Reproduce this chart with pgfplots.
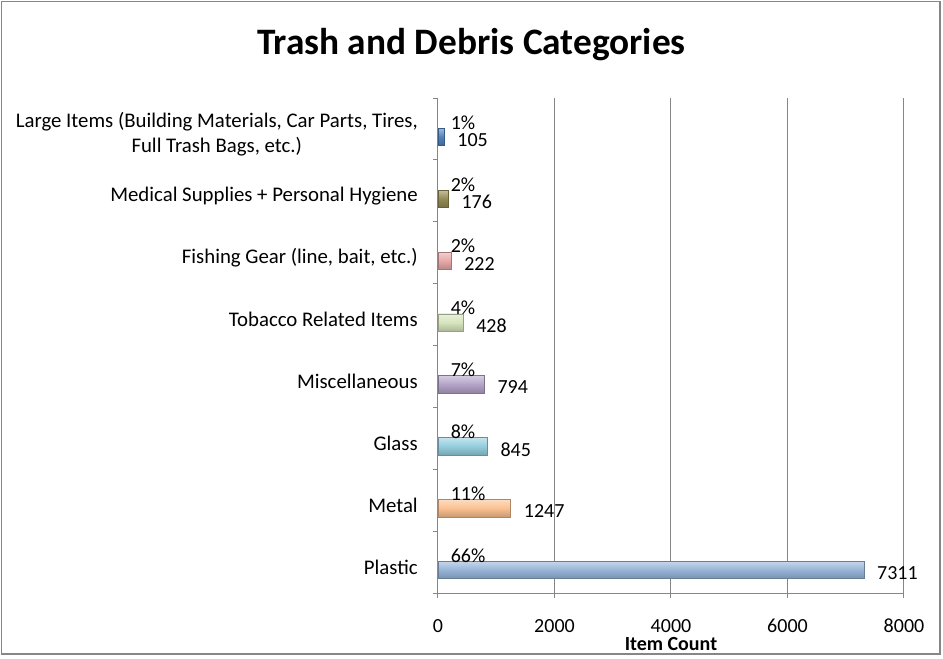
\documentclass[border=0pt]{standalone}
\usepackage{pgfplots}
\pgfplotsset{compat=1.18}
\usepackage{fontspec}
\setmainfont{Carlito}
\definecolor{gridc}{HTML}{868686}
\definecolor{cPlastic}{HTML}{95B3D7}
\definecolor{cMetal}{HTML}{FAC090}
\definecolor{cGlass}{HTML}{93CDDD}
\definecolor{cMisc}{HTML}{B3A2C7}
\definecolor{cTob}{HTML}{D7E4BD}
\definecolor{cFish}{HTML}{E6A9A8}
\definecolor{cMed}{HTML}{948A54}
\definecolor{cLarge}{HTML}{4F81BD}
\pgfplotsset{
  bev/.style={draw=#1!70!black, line width=0.5pt, top color=#1!55!white, bottom color=#1!80!black, middle color=#1,
    nodes near coords, point meta=x,
    nodes near coords style={anchor=west, inner sep=0pt, xshift=9.75pt, yshift=-2.25pt, font=\fontsize{15}{18}\selectfont, text=black,
      /pgf/number format/1000 sep={}, /pgf/number format/assume math mode=true}},
}
\begin{document}
\begin{tikzpicture}
\useasboundingbox (-328.5pt,-48.75pt) rectangle (378.75pt,444.75pt);
\draw[color=gridc, line width=1.1pt] (-327.4pt,-45.75pt) rectangle (376.5pt,443.6pt);
\node[font=\bfseries\fontsize{28}{32}\selectfont] at (25.1pt,411pt) {Trash and Debris Categories};
\begin{axis}[
  at={(0pt,0pt)}, anchor=south west, scale only axis,
  width=349.5pt, height=371.25pt,
  xbar, bar width=0.28, bar shift=-0.13,
  xmin=0, xmax=8000, ymin=-0.5, ymax=7.5,
  axis x line*=bottom, axis y line*=left,
  axis line style={gridc, line width=0.75pt},
  xmajorgrids, grid style={gridc, line width=0.75pt},
  xtick={0,2000,4000,6000,8000},
  scaled x ticks=false,
  xticklabel style={anchor=center, inner sep=0pt, yshift=-21pt, font=\fontsize{15}{18}\selectfont,
    /pgf/number format/1000 sep={}, /pgf/number format/assume math mode=true},
  ytick={-0.5,0.5,...,7.5}, yticklabels={},
  extra y ticks={0,1,2,3,4,5,6,7},
  extra y tick labels={Plastic, Metal, Glass, Miscellaneous, Tobacco Related Items, {Fishing Gear (line, bait, etc.)}, Medical Supplies + Personal Hygiene, {Large Items (Building Materials, Car Parts, Tires,\\Full Trash Bags, etc.)}},
  extra y tick style={major tick length=0pt},
  yticklabel style={anchor=east, inner sep=0pt, xshift=-15pt, yshift=-3.75pt, align=center, font=\fontsize{15.6}{19}\selectfont},
  tick align=outside,
  major tick length=3.75pt,
  tick style={gridc, line width=0.75pt},
  xlabel={Item Count},
  xlabel style={at={(axis description cs:0.5,0)}, anchor=center, inner sep=0pt, yshift=-38.5pt, font=\bfseries\fontsize{15}{18}\selectfont},
  clip=false,
]
\addplot[bev=cPlastic] coordinates {(7311,0)};
\addplot[bev=cMetal] coordinates {(1247,1)};
\addplot[bev=cGlass] coordinates {(845,2)};
\addplot[bev=cMisc] coordinates {(794,3)};
\addplot[bev=cTob] coordinates {(428,4)};
\addplot[bev=cFish] coordinates {(222,5)};
\addplot[bev=cMed] coordinates {(176,6)};
\addplot[bev=cLarge] coordinates {(105,7)};
\addplot[sharp plot, bar shift=0, draw=none, mark=none, nodes near coords, point meta=explicit symbolic,
  nodes near coords style={anchor=west, inner sep=0pt, yshift=4.9pt, font=\fontsize{15}{18}\selectfont, text=black}]
  table[meta=p] {
x y p
215 0 66\%
215 1 11\%
215 2 8\%
215 3 7\%
215 4 4\%
215 5 2\%
215 6 2\%
215 7 1\%
};
\end{axis}
\end{tikzpicture}
\end{document}
